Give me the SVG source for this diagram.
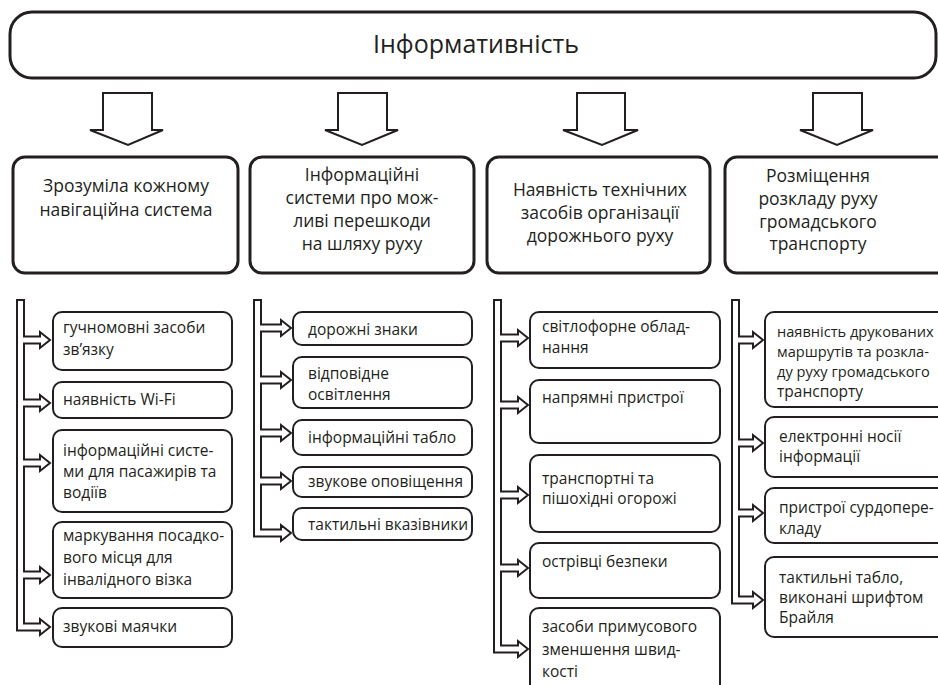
<svg xmlns="http://www.w3.org/2000/svg" width="938" height="685" viewBox="0 0 938 685">
<style>
.t{font-family:"Open Sans","Noto Sans",sans-serif;fill:#231f20}
.title{font-size:25px;text-anchor:middle}
.h{font-size:17.5px;text-anchor:middle}
.s{font-size:15.5px}
.n{font-size:14.6px}
.big{fill:#fff;stroke:#231f20;stroke-width:3}
.box{fill:#fff;stroke:#231f20;stroke-width:2}
.arr{fill:#fff;stroke:#231f20;stroke-width:2;stroke-linejoin:miter}
.pipe{fill:#fff;stroke:#231f20;stroke-width:2;stroke-linejoin:miter}
</style>
<rect width="938" height="685" fill="#fff"/>
<g id="root">
<rect class="big" x="10" y="12" width="926" height="66" rx="22"/>
<text class="t title" x="476" y="53">Інформативність</text>
</g>
<g id="connectors">
<polygon class="arr" points="103,93 152,93 152,130 163,130 128,145 90,130 103,130"/>
<polygon class="arr" points="338,93 387,93 387,130 398,130 362,145 325,130 338,130"/>
<polygon class="arr" points="577,93 625,93 625,130 638,130 602,145 563,130 577,130"/>
<polygon class="arr" points="813,93 862,93 862,130 873,130 837,145 800,130 813,130"/>
<path class="pipe" d="M17,630.5 V300 H24 V336.5 H40 V332 L50,340 L40,348 V343.5 H24 V399.5 H40 V395 L50,403 L40,411 V406.5 H24 V459.5 H40 V455 L50,463 L40,471 V466.5 H24 V571.5 H40 V567 L50,575 L40,583 V578.5 H24 V623.5 H40 V619 L50,627 L40,635 V630.5 Z"/>
<path class="pipe" d="M254,536.5 V300 H261 V324.5 H281 V320 L291,328 L281,336 V331.5 H261 V376.5 H281 V372 L291,380 L281,388 V383.5 H261 V429.5 H281 V425 L291,433 L281,441 V436.5 H261 V477.5 H281 V473 L291,481 L281,489 V484.5 H261 V529.5 H281 V525 L291,533 L281,541 V536.5 Z"/>
<path class="pipe" d="M494,652.5 V300 H501 V334.5 H518 V330 L528,338 L518,346 V341.5 H501 V401.5 H518 V397 L528,405 L518,413 V408.5 H501 V491.5 H518 V487 L528,495 L518,503 V498.5 H501 V564.5 H518 V560 L528,568 L518,576 V571.5 H501 V645.5 H518 V641 L528,649 L518,657 V652.5 Z"/>
<path class="pipe" d="M732,603.5 V300 H739 V336.5 H753 V332 L763,340 L753,348 V343.5 H739 V439.5 H753 V435 L763,443 L753,451 V446.5 H739 V509.5 H753 V505 L763,513 L753,521 V516.5 H739 V596.5 H753 V592 L763,600 L753,608 V603.5 Z"/>
</g>
<g id="h1">
<rect class="big" x="13" y="157" width="225" height="116" rx="12"/>
<text class="t h" x="126" y="192">Зрозуміла кожному</text>
<text class="t h" x="126" y="216">навігаційна система</text>
</g>
<g id="h2">
<rect class="big" x="250" y="157" width="224" height="116" rx="12"/>
<text class="t h" x="362" y="181">Інформаційні</text>
<text class="t h" x="362" y="204">системи про мож-</text>
<text class="t h" x="362" y="227">ливі перешкоди</text>
<text class="t h" x="362" y="250">на шляху руху</text>
</g>
<g id="h3">
<rect class="big" x="487" y="157" width="223" height="116" rx="12"/>
<text class="t h" x="600" y="196">Наявність технічних</text>
<text class="t h" x="600" y="219">засобів організації</text>
<text class="t h" x="600" y="242">дорожнього руху</text>
</g>
<g id="h4">
<rect class="big" x="725" y="157" width="240" height="116" rx="12"/>
<text class="t h" x="818" y="182">Розміщення</text>
<text class="t h" x="818" y="205">розкладу руху</text>
<text class="t h" x="818" y="228">громадського</text>
<text class="t h" x="818" y="250">транспорту</text>
</g>
<g id="c1a"><rect class="box" x="53" y="312" width="179" height="58" rx="9"/><text class="t s" x="63" y="333">гучномовні засоби</text><text class="t s" x="63" y="355">зв’язку</text></g>
<g id="c1b"><rect class="box" x="53" y="382" width="179" height="36" rx="9"/><text class="t s" x="63" y="405">наявність Wi-Fi</text></g>
<g id="c1c"><rect class="box" x="53" y="430" width="179" height="82" rx="9"/><text class="t s" x="63" y="456">інформаційні систе-</text><text class="t s" x="63" y="477">ми для пасажирів та</text><text class="t s" x="63" y="498">водіїв</text></g>
<g id="c1d"><rect class="box" x="53" y="522" width="179" height="76" rx="9"/><text class="t s" x="63" y="541">маркування посадко-</text><text class="t s" x="63" y="563">вого місця для</text><text class="t s" x="63" y="585">інвалідного візка</text></g>
<g id="c1e"><rect class="box" x="53" y="608" width="179" height="39" rx="9"/><text class="t s" x="63" y="632">звукові маячки</text></g>
<g id="c2a"><rect class="box" x="293" y="312" width="179" height="33" rx="9"/><text class="t s" x="308" y="335">дорожні знаки</text></g>
<g id="c2b"><rect class="box" x="293" y="357" width="179" height="51" rx="9"/><text class="t s" x="308" y="379">відповідне</text><text class="t s" x="308" y="400">освітлення</text></g>
<g id="c2c"><rect class="box" x="293" y="420" width="179" height="35" rx="9"/><text class="t s" x="308" y="443">інформаційні табло</text></g>
<g id="c2d"><rect class="box" x="293" y="467" width="179" height="30" rx="9"/><text class="t s" x="308" y="487">звукове оповіщення</text></g>
<g id="c2e"><rect class="box" x="293" y="508" width="179" height="32" rx="9"/><text class="t s" x="308" y="530">тактильні вказівники</text></g>
<g id="c3a"><rect class="box" x="530" y="312" width="190" height="56" rx="9"/><text class="t s" x="542" y="332">світлофорне облад-</text><text class="t s" x="542" y="353">нання</text></g>
<g id="c3b"><rect class="box" x="530" y="380" width="190" height="63" rx="9"/><text class="t s" x="542" y="403">напрямні пристрої</text></g>
<g id="c3c"><rect class="box" x="530" y="455" width="190" height="77" rx="9"/><text class="t s" x="542" y="484">транспортні та</text><text class="t s" x="542" y="504">пішохідні огорожі</text></g>
<g id="c3d"><rect class="box" x="530" y="543" width="190" height="55" rx="9"/><text class="t s" x="542" y="567">острівці безпеки</text></g>
<g id="c3e"><rect class="box" x="530" y="608" width="190" height="90" rx="9"/><text class="t s" x="542" y="632">засоби примусового</text><text class="t s" x="542" y="655">зменшення швид-</text><text class="t s" x="542" y="677">кості</text></g>
<g id="c4a"><rect class="box" x="765" y="312" width="190" height="95" rx="9"/><text class="t n" x="777" y="337">наявність друкованих</text><text class="t n" x="777" y="357">маршрутів та розкла-</text><text class="t n" x="777" y="377">ду руху громадського</text><text class="t s" x="777" y="397">транспорту</text></g>
<g id="c4b"><rect class="box" x="765" y="417" width="190" height="60" rx="9"/><text class="t s" x="779" y="442">електронні носії</text><text class="t s" x="779" y="462">інформації</text></g>
<g id="c4c"><rect class="box" x="765" y="488" width="190" height="55" rx="9"/><text class="t s" x="779" y="513">пристрої сурдопере-</text><text class="t s" x="779" y="534">кладу</text></g>
<g id="c4d"><rect class="box" x="765" y="557" width="190" height="80" rx="9"/><text class="t s" x="779" y="583">тактильні табло,</text><text class="t s" x="779" y="603">виконані шрифтом</text><text class="t s" x="779" y="623">Брайля</text></g>
</svg>
